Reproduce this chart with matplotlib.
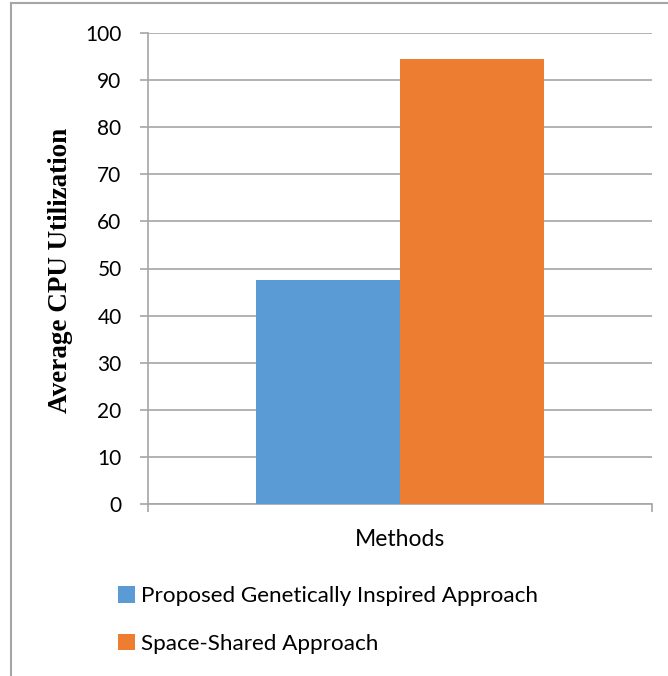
import matplotlib
matplotlib.use("Agg")
import matplotlib.pyplot as plt
from matplotlib.lines import Line2D

# data
category = "Methods"
series_names = ["Proposed Genetically Inspired Approach", "Space-Shared Approach"]
series_values = [47.6, 94.5]
colors = ["#5b9bd5", "#ed7d31"]
yticks = list(range(0, 101, 10))

W, H = 668, 676
fig = plt.figure(figsize=(W / 100, H / 100), dpi=100)
ax = fig.add_axes([148 / W, 1 - 504 / H, 504 / W, 471 / H])

bw = 144 / 504
offsets = [-bw / 2, bw / 2]
bars = []
for off, v, c, name in zip(offsets, series_values, colors, series_names):
    b = ax.bar(off, v, width=bw, color=c, label=name, zorder=3)
    bars.append(b)

fs = 16.5
ax.set_xlim(-0.5, 0.5)
ax.set_ylim(0, 100)
ax.set_yticks(yticks)
ax.set_yticklabels([str(t) for t in yticks], fontsize=15, family="Lato")
ax.yaxis.grid(True, color="#a6a6a6", lw=1.2, zorder=0)

ax.set_xticks([0])
ax.set_xticklabels([category], fontsize=fs, family="Lato")
ax.set_xticks([-0.5, 0.5], minor=True)
ax.tick_params(axis="x", which="major", length=0, pad=18)
ax.tick_params(axis="x", which="minor", length=6, color="#a6a6a6", width=1.2)
ax.tick_params(axis="y", length=6, color="#a6a6a6", width=1.2, pad=13)

for s in ["top", "right"]:
    ax.spines[s].set_visible(False)
for s in ["left", "bottom"]:
    ax.spines[s].set_color("#a6a6a6")
    ax.spines[s].set_linewidth(1.2)

fig.text(61 / W, 1 - 270 / H, "Average CPU Utilization", rotation=90,
         ha="center", va="center", fontsize=19.5, fontweight="bold",
         family="Liberation Serif")

fig.legend(handles=[b[0] for b in bars], labels=series_names,
           loc="upper left", bbox_to_anchor=(107 / W, 1 - 575 / H),
           frameon=False, prop={"family": "Lato", "size": 16.2},
           handlelength=0.75, handleheight=0.75, handletextpad=0.25,
           labelspacing=1.22, borderpad=0)

# outer frame
fig.add_artist(Line2D([11 / W, 11 / W], [0, 1 - 3 / H], transform=fig.transFigure,
                      color="#a6a6a6", lw=1.5))
fig.add_artist(Line2D([11 / W, 1], [1 - 3 / H, 1 - 3 / H], transform=fig.transFigure,
                      color="#a6a6a6", lw=1.5))

fig.savefig("out.png", dpi=100)
